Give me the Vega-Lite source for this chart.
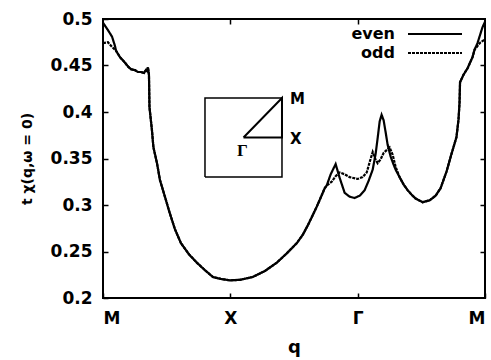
{
  "$schema": "https://vega.github.io/schema/vega-lite/v6.json",
  "width": 382,
  "height": 279,
  "autosize": "none",
  "padding": {"left": 103, "top": 19, "right": 6, "bottom": 62},
  "background": "white",
  "config": {
    "view": {"stroke": "black", "strokeWidth": 2},
    "font": "DejaVu Sans",
    "axis": {
      "grid": false,
      "domain": false,
      "labelFont": "DejaVu Sans",
      "labelFontWeight": "bold",
      "labelColor": "black",
      "titleFont": "DejaVu Sans",
      "titleFontWeight": "bold",
      "titleColor": "black",
      "tickColor": "black",
      "tickWidth": 1.5
    }
  },
  "datasets": {
    "chi": [
      {"q":0.000,"chi":0.496,"parity":"even"},
      {"q":0.039,"chi":0.488,"parity":"even"},
      {"q":0.071,"chi":0.481,"parity":"even"},
      {"q":0.094,"chi":0.471,"parity":"even"},
      {"q":0.102,"chi":0.466,"parity":"even"},
      {"q":0.133,"chi":0.459,"parity":"even"},
      {"q":0.173,"chi":0.453,"parity":"even"},
      {"q":0.196,"chi":0.449,"parity":"even"},
      {"q":0.220,"chi":0.446,"parity":"even"},
      {"q":0.251,"chi":0.445,"parity":"even"},
      {"q":0.275,"chi":0.443,"parity":"even"},
      {"q":0.298,"chi":0.443,"parity":"even"},
      {"q":0.322,"chi":0.442,"parity":"even"},
      {"q":0.337,"chi":0.445,"parity":"even"},
      {"q":0.345,"chi":0.444,"parity":"even"},
      {"q":0.353,"chi":0.448,"parity":"even"},
      {"q":0.361,"chi":0.440,"parity":"even"},
      {"q":0.365,"chi":0.405,"parity":"even"},
      {"q":0.384,"chi":0.381,"parity":"even"},
      {"q":0.396,"chi":0.362,"parity":"even"},
      {"q":0.424,"chi":0.345,"parity":"even"},
      {"q":0.447,"chi":0.327,"parity":"even"},
      {"q":0.486,"chi":0.309,"parity":"even"},
      {"q":0.525,"chi":0.291,"parity":"even"},
      {"q":0.565,"chi":0.274,"parity":"even"},
      {"q":0.612,"chi":0.259,"parity":"even"},
      {"q":0.675,"chi":0.247,"parity":"even"},
      {"q":0.737,"chi":0.238,"parity":"even"},
      {"q":0.800,"chi":0.230,"parity":"even"},
      {"q":0.863,"chi":0.2226,"parity":"even"},
      {"q":0.925,"chi":0.2205,"parity":"even"},
      {"q":0.996,"chi":0.219,"parity":"even"},
      {"q":1.075,"chi":0.2195,"parity":"even"},
      {"q":1.176,"chi":0.2226,"parity":"even"},
      {"q":1.271,"chi":0.229,"parity":"even"},
      {"q":1.365,"chi":0.238,"parity":"even"},
      {"q":1.443,"chi":0.248,"parity":"even"},
      {"q":1.522,"chi":0.259,"parity":"even"},
      {"q":1.569,"chi":0.268,"parity":"even"},
      {"q":1.608,"chi":0.278,"parity":"even"},
      {"q":1.647,"chi":0.289,"parity":"even"},
      {"q":1.678,"chi":0.298,"parity":"even"},
      {"q":1.710,"chi":0.308,"parity":"even"},
      {"q":1.741,"chi":0.318,"parity":"even"},
      {"q":1.757,"chi":0.321,"parity":"even"},
      {"q":1.788,"chi":0.333,"parity":"even"},
      {"q":1.827,"chi":0.344,"parity":"even"},
      {"q":1.859,"chi":0.329,"parity":"even"},
      {"q":1.898,"chi":0.313,"parity":"even"},
      {"q":1.937,"chi":0.309,"parity":"even"},
      {"q":1.976,"chi":0.3075,"parity":"even"},
      {"q":2.016,"chi":0.310,"parity":"even"},
      {"q":2.055,"chi":0.316,"parity":"even"},
      {"q":2.086,"chi":0.326,"parity":"even"},
      {"q":2.118,"chi":0.338,"parity":"even"},
      {"q":2.141,"chi":0.355,"parity":"even"},
      {"q":2.157,"chi":0.372,"parity":"even"},
      {"q":2.173,"chi":0.390,"parity":"even"},
      {"q":2.188,"chi":0.397,"parity":"even"},
      {"q":2.204,"chi":0.391,"parity":"even"},
      {"q":2.220,"chi":0.378,"parity":"even"},
      {"q":2.235,"chi":0.365,"parity":"even"},
      {"q":2.259,"chi":0.352,"parity":"even"},
      {"q":2.275,"chi":0.346,"parity":"even"},
      {"q":2.298,"chi":0.338,"parity":"even"},
      {"q":2.329,"chi":0.330,"parity":"even"},
      {"q":2.361,"chi":0.322,"parity":"even"},
      {"q":2.392,"chi":0.316,"parity":"even"},
      {"q":2.424,"chi":0.311,"parity":"even"},
      {"q":2.455,"chi":0.307,"parity":"even"},
      {"q":2.510,"chi":0.303,"parity":"even"},
      {"q":2.565,"chi":0.305,"parity":"even"},
      {"q":2.612,"chi":0.310,"parity":"even"},
      {"q":2.651,"chi":0.318,"parity":"even"},
      {"q":2.698,"chi":0.336,"parity":"even"},
      {"q":2.737,"chi":0.355,"parity":"even"},
      {"q":2.776,"chi":0.373,"parity":"even"},
      {"q":2.792,"chi":0.392,"parity":"even"},
      {"q":2.800,"chi":0.410,"parity":"even"},
      {"q":2.804,"chi":0.432,"parity":"even"},
      {"q":2.831,"chi":0.440,"parity":"even"},
      {"q":2.863,"chi":0.447,"parity":"even"},
      {"q":2.902,"chi":0.459,"parity":"even"},
      {"q":2.918,"chi":0.467,"parity":"even"},
      {"q":2.941,"chi":0.474,"parity":"even"},
      {"q":2.957,"chi":0.481,"parity":"even"},
      {"q":2.980,"chi":0.491,"parity":"even"},
      {"q":3.000,"chi":0.497,"parity":"even"},

      {"q":0.000,"chi":0.474,"parity":"odd"},
      {"q":0.039,"chi":0.475,"parity":"odd"},
      {"q":0.071,"chi":0.470,"parity":"odd"},
      {"q":0.094,"chi":0.467,"parity":"odd"},
      {"q":0.102,"chi":0.466,"parity":"odd"},
      {"q":0.133,"chi":0.459,"parity":"odd"},
      {"q":0.173,"chi":0.453,"parity":"odd"},
      {"q":0.196,"chi":0.449,"parity":"odd"},
      {"q":0.220,"chi":0.446,"parity":"odd"},
      {"q":0.251,"chi":0.445,"parity":"odd"},
      {"q":0.275,"chi":0.443,"parity":"odd"},
      {"q":0.298,"chi":0.443,"parity":"odd"},
      {"q":0.322,"chi":0.442,"parity":"odd"},
      {"q":0.337,"chi":0.445,"parity":"odd"},
      {"q":0.345,"chi":0.444,"parity":"odd"},
      {"q":0.353,"chi":0.448,"parity":"odd"},
      {"q":0.361,"chi":0.440,"parity":"odd"},
      {"q":0.365,"chi":0.405,"parity":"odd"},
      {"q":0.384,"chi":0.381,"parity":"odd"},
      {"q":0.396,"chi":0.362,"parity":"odd"},
      {"q":0.424,"chi":0.345,"parity":"odd"},
      {"q":0.447,"chi":0.327,"parity":"odd"},
      {"q":0.486,"chi":0.309,"parity":"odd"},
      {"q":0.525,"chi":0.291,"parity":"odd"},
      {"q":0.565,"chi":0.274,"parity":"odd"},
      {"q":0.612,"chi":0.259,"parity":"odd"},
      {"q":0.675,"chi":0.247,"parity":"odd"},
      {"q":0.737,"chi":0.238,"parity":"odd"},
      {"q":0.800,"chi":0.230,"parity":"odd"},
      {"q":0.863,"chi":0.2226,"parity":"odd"},
      {"q":0.925,"chi":0.2205,"parity":"odd"},
      {"q":0.996,"chi":0.219,"parity":"odd"},
      {"q":1.075,"chi":0.2195,"parity":"odd"},
      {"q":1.176,"chi":0.2226,"parity":"odd"},
      {"q":1.271,"chi":0.229,"parity":"odd"},
      {"q":1.365,"chi":0.238,"parity":"odd"},
      {"q":1.443,"chi":0.248,"parity":"odd"},
      {"q":1.522,"chi":0.259,"parity":"odd"},
      {"q":1.569,"chi":0.268,"parity":"odd"},
      {"q":1.608,"chi":0.278,"parity":"odd"},
      {"q":1.647,"chi":0.289,"parity":"odd"},
      {"q":1.678,"chi":0.298,"parity":"odd"},
      {"q":1.710,"chi":0.308,"parity":"odd"},
      {"q":1.741,"chi":0.318,"parity":"odd"},
      {"q":1.757,"chi":0.321,"parity":"odd"},
      {"q":1.796,"chi":0.325,"parity":"odd"},
      {"q":1.827,"chi":0.331,"parity":"odd"},
      {"q":1.859,"chi":0.335,"parity":"odd"},
      {"q":1.898,"chi":0.333,"parity":"odd"},
      {"q":1.937,"chi":0.330,"parity":"odd"},
      {"q":2.000,"chi":0.328,"parity":"odd"},
      {"q":2.039,"chi":0.330,"parity":"odd"},
      {"q":2.071,"chi":0.335,"parity":"odd"},
      {"q":2.094,"chi":0.346,"parity":"odd"},
      {"q":2.118,"chi":0.357,"parity":"odd"},
      {"q":2.137,"chi":0.350,"parity":"odd"},
      {"q":2.157,"chi":0.345,"parity":"odd"},
      {"q":2.180,"chi":0.349,"parity":"odd"},
      {"q":2.204,"chi":0.356,"parity":"odd"},
      {"q":2.251,"chi":0.362,"parity":"odd"},
      {"q":2.275,"chi":0.354,"parity":"odd"},
      {"q":2.298,"chi":0.341,"parity":"odd"},
      {"q":2.329,"chi":0.330,"parity":"odd"},
      {"q":2.361,"chi":0.322,"parity":"odd"},
      {"q":2.392,"chi":0.316,"parity":"odd"},
      {"q":2.424,"chi":0.311,"parity":"odd"},
      {"q":2.455,"chi":0.307,"parity":"odd"},
      {"q":2.510,"chi":0.303,"parity":"odd"},
      {"q":2.565,"chi":0.305,"parity":"odd"},
      {"q":2.612,"chi":0.310,"parity":"odd"},
      {"q":2.651,"chi":0.318,"parity":"odd"},
      {"q":2.698,"chi":0.336,"parity":"odd"},
      {"q":2.737,"chi":0.355,"parity":"odd"},
      {"q":2.776,"chi":0.373,"parity":"odd"},
      {"q":2.792,"chi":0.392,"parity":"odd"},
      {"q":2.800,"chi":0.410,"parity":"odd"},
      {"q":2.804,"chi":0.432,"parity":"odd"},
      {"q":2.831,"chi":0.440,"parity":"odd"},
      {"q":2.863,"chi":0.447,"parity":"odd"},
      {"q":2.902,"chi":0.459,"parity":"odd"},
      {"q":2.918,"chi":0.467,"parity":"odd"},
      {"q":2.941,"chi":0.471,"parity":"odd"},
      {"q":2.965,"chi":0.475,"parity":"odd"},
      {"q":3.000,"chi":0.478,"parity":"odd"}
    ],
    "bzBox": [
      {"kx":-1,"ky":-1,"i":0},
      {"kx":1,"ky":-1,"i":1},
      {"kx":1,"ky":1,"i":2},
      {"kx":-1,"ky":1,"i":3},
      {"kx":-1,"ky":-1,"i":4}
    ],
    "bzPath": [
      {"kx":0,"ky":0,"i":0},
      {"kx":1,"ky":0,"i":1},
      {"kx":1,"ky":1,"i":2},
      {"kx":0,"ky":0,"i":3}
    ],
    "bzPoints": [
      {"point":"M","kx":1,"ky":1},
      {"point":"X","kx":1,"ky":0},
      {"point":"Γ","kx":0,"ky":0}
    ]
  },
  "layer": [
    {
      "layer": [
        {
          "data": {"name": "chi"},
          "mark": {"type": "line", "strokeWidth": 2.2},
          "encoding": {
            "x": {
              "field": "q", "type": "quantitative",
              "scale": {"domain": [0, 3], "nice": false, "zero": false},
              "axis": {
                "values": [0, 1, 2, 3],
                "labelExpr": "datum.value == 1 ? 'X' : datum.value == 2 ? 'Γ' : 'M'",
                "labelFontSize": 17,
                "labelPadding": 17,
                "tickSize": -5,
                "title": "q",
                "titleFontSize": 18,
                "titlePadding": 12
              }
            },
            "y": {
              "field": "chi", "type": "quantitative",
              "scale": {"domain": [0.2, 0.5], "nice": false, "zero": false},
              "axis": {
                "values": [0.2, 0.25, 0.3, 0.35, 0.4, 0.45, 0.5],
                "format": "~g",
                "labelFontSize": 17,
                "labelPadding": 16,
                "tickSize": -5,
                "title": "t χ(q,ω = 0)",
                "titleFontSize": 14,
                "titlePadding": 16
              }
            },
            "color": {
              "field": "parity", "type": "nominal",
              "scale": {"domain": ["even", "odd"], "range": ["black", "black"]},
              "legend": {
                "title": null, "orient": "none", "legendX": 322, "legendY": 5,
                "symbolType": "M-3,0H3", "symbolSize": 324, "symbolStrokeWidth": 2,
                "labelAlign": "right", "labelOffset": -50,
                "labelFont": "DejaVu Sans", "labelFontSize": 16, "labelFontWeight": "bold",
                "labelColor": "black", "rowPadding": 1, "padding": 0
              }
            },
            "strokeDash": {
              "field": "parity", "type": "nominal",
              "scale": {"domain": ["even", "odd"], "range": [[1, 0], [3, 1]]},
              "legend": {
                "title": null, "orient": "none", "legendX": 322, "legendY": 5,
                "symbolType": "M-3,0H3", "symbolSize": 324, "symbolStrokeWidth": 2,
                "labelAlign": "right", "labelOffset": -50,
                "labelFont": "DejaVu Sans", "labelFontSize": 16, "labelFontWeight": "bold",
                "labelColor": "black", "rowPadding": 1, "padding": 0
              }
            }
          }
        },
        {
          "data": {"name": "chi"},
          "mark": {"type": "line", "opacity": 0},
          "encoding": {
            "x": {
              "field": "q", "type": "quantitative",
              "axis": {"orient": "top", "values": [1, 2], "labels": false, "tickSize": -5, "title": null}
            },
            "y": {
              "field": "chi", "type": "quantitative",
              "axis": {"orient": "right", "values": [0.25, 0.3, 0.35, 0.4, 0.45], "labels": false, "tickSize": -5, "title": null}
            }
          }
        }
      ],
      "resolve": {"axis": {"x": "independent", "y": "independent"}}
    },
    {
      "layer": [
        {
          "data": {"name": "bzBox"},
          "mark": {"type": "line", "color": "black", "strokeWidth": 1.5},
          "encoding": {
            "x": {"field": "kx", "type": "quantitative", "scale": {"domain": [-3.649, 6.273], "nice": false, "zero": false}, "axis": null},
            "y": {"field": "ky", "type": "quantitative", "scale": {"domain": [-4.063, 3.0], "nice": false, "zero": false}, "axis": null},
            "order": {"field": "i", "type": "quantitative"}
          }
        },
        {
          "data": {"name": "bzPath"},
          "mark": {"type": "line", "color": "black", "strokeWidth": 2},
          "encoding": {
            "x": {"field": "kx", "type": "quantitative", "scale": {"domain": [-3.649, 6.273], "nice": false, "zero": false}, "axis": null},
            "y": {"field": "ky", "type": "quantitative", "scale": {"domain": [-4.063, 3.0], "nice": false, "zero": false}, "axis": null},
            "order": {"field": "i", "type": "quantitative"}
          }
        },
        {
          "data": {"name": "bzPoints"},
          "transform": [{"filter": "datum.point != 'Γ'"}],
          "mark": {"type": "text", "align": "left", "baseline": "middle", "dx": 8, "dy": 1, "font": "DejaVu Sans", "fontWeight": "bold", "fontSize": 15, "color": "black"},
          "encoding": {
            "x": {"field": "kx", "type": "quantitative", "scale": {"domain": [-3.649, 6.273], "nice": false, "zero": false}, "axis": null},
            "y": {"field": "ky", "type": "quantitative", "scale": {"domain": [-4.063, 3.0], "nice": false, "zero": false}, "axis": null},
            "text": {"field": "point"}
          }
        },
        {
          "data": {"name": "bzPoints"},
          "transform": [{"filter": "datum.point == 'Γ'"}],
          "mark": {"type": "text", "align": "center", "baseline": "middle", "dx": -1, "dy": 13, "font": "Liberation Serif", "fontWeight": "bold", "fontSize": 17, "color": "black"},
          "encoding": {
            "x": {"field": "kx", "type": "quantitative", "scale": {"domain": [-3.649, 6.273], "nice": false, "zero": false}, "axis": null},
            "y": {"field": "ky", "type": "quantitative", "scale": {"domain": [-4.063, 3.0], "nice": false, "zero": false}, "axis": null},
            "text": {"field": "point"}
          }
        }
      ]
    }
  ],
  "resolve": {"scale": {"x": "independent", "y": "independent"}}
}
